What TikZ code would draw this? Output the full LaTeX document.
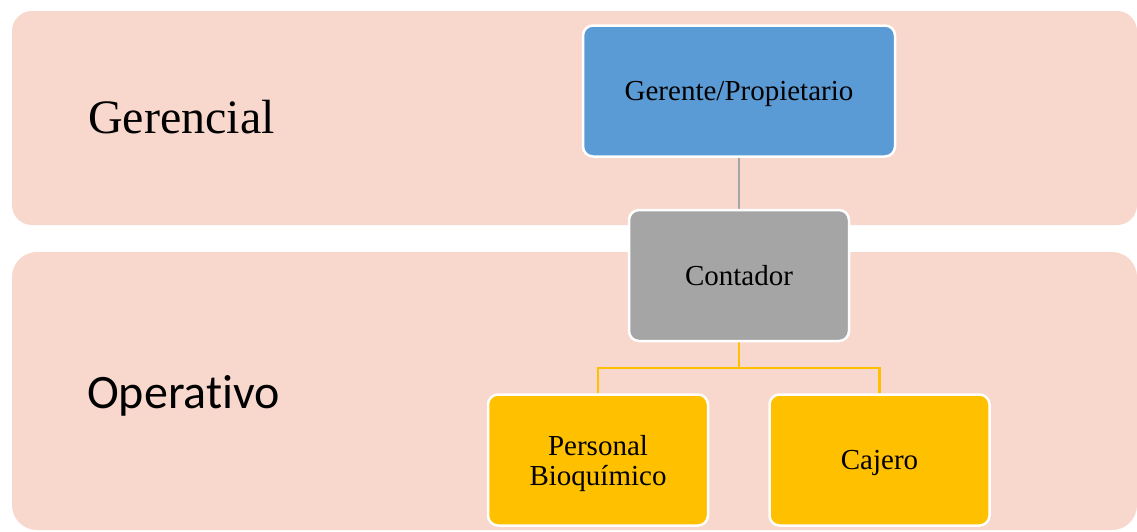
\documentclass[tikz,border=0pt]{standalone}
\usepackage{fontspec}
\setmainfont{Liberation Serif}
\newfontfamily\opfont[Ligatures=NoCommon]{Carlito}
\usetikzlibrary{backgrounds}
\definecolor{banda}{HTML}{F8D7CD}
\definecolor{azul}{HTML}{5B9BD5}
\definecolor{gris}{HTML}{A5A5A5}
\definecolor{oro}{HTML}{FFC000}
\begin{document}
\begin{tikzpicture}[x=1pt, y=-1pt, line join=round,
    caja/.style={draw=white, line width=2.5pt, rounded corners=10pt, align=center,
        inner sep=0pt, minimum width=220pt, minimum height=131pt, text depth=0pt,
        font=\fontsize{29}{30}\selectfont},
    nivel/.style={anchor=base west, inner sep=0pt}]
    \useasboundingbox (0,0) rectangle (1137,531);
    % cajas del organigrama
    \node[caja, fill=azul, minimum width=312pt] (gerente) at (739,91) {Gerente/Propietario};
    \node[caja, fill=gris] (contador) at (739,275.5) {Contador};
    \node[caja, fill=oro] (personal) at (598,460) {Personal\\Bioqu\'imico};
    \node[caja, fill=oro] (cajero) at (879.5,460) {Cajero};
    % niveles
    \node[nivel, font=\fontsize{48}{48}\selectfont] (gerencial) at (88,133) {Gerencial};
    \node[nivel, font=\opfont\fontsize{48}{48}\selectfont] (operativo) at (87,408) {Operativo};
    \begin{pgfonlayer}{background}
        \fill[banda, rounded corners=20pt] (12,11) rectangle (1137,225);
        \fill[banda, rounded corners=25pt] (12,252) rectangle (1137,530);
        \draw[gris, line width=2pt] (gerente.south)--(contador.north);
        \coordinate (rama) at (739,368);
        \draw[oro, line width=2.2pt] (contador.south)--(rama) -| (personal.north);
        \draw[oro, line width=2.2pt] (rama) -| (cajero.north);
    \end{pgfonlayer}
\end{tikzpicture}
\end{document}
